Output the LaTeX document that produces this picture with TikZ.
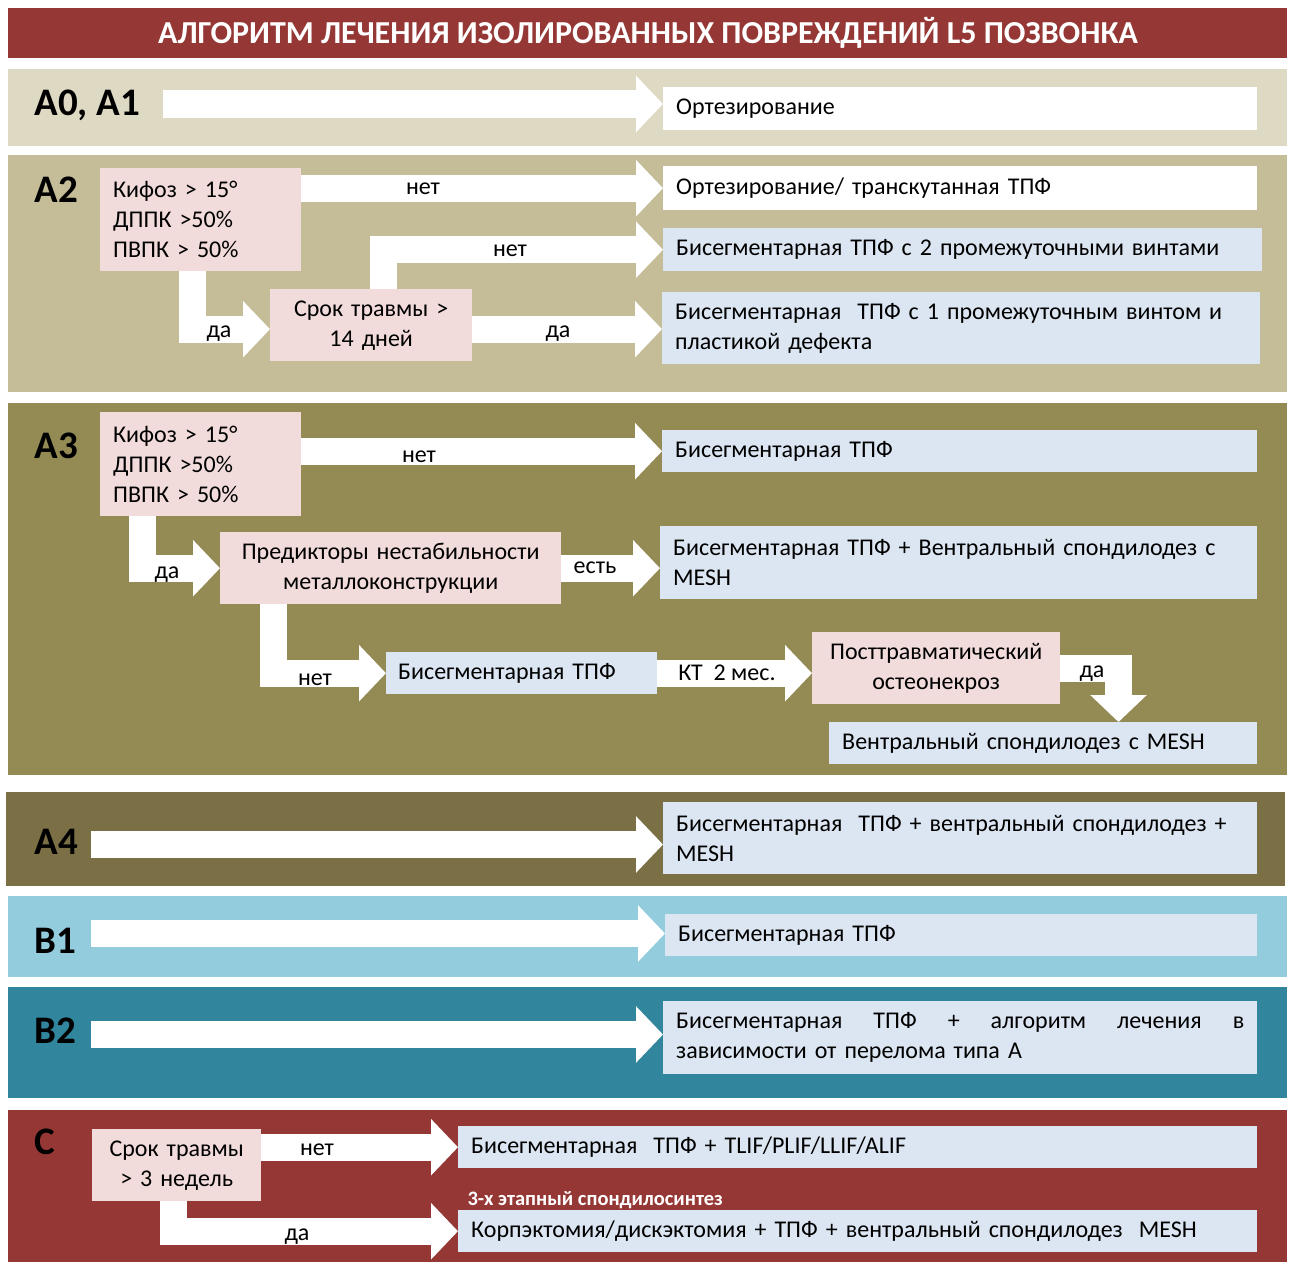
\documentclass[tikz,border=0pt]{standalone}
\usepackage{fontspec}
\setmainfont{Carlito}
\usetikzlibrary{arrows.meta}

\definecolor{titlered}{HTML}{953735}
\definecolor{bandA0}{HTML}{DDD9C3}
\definecolor{bandA2}{HTML}{C4BD97}
\definecolor{bandA3}{HTML}{948A54}
\definecolor{bandA4}{HTML}{7A6F45}
\definecolor{bandB1}{HTML}{93CDDD}
\definecolor{bandB2}{HTML}{31859C}
\definecolor{pinkbox}{HTML}{F2DCDB}
\definecolor{bluebox}{HTML}{DCE6F2}

\newcommand{\txt}{\fontsize{24}{30}\selectfont}
\newcommand{\grptxt}{\fontsize{39}{39}\selectfont\bfseries}

\begin{document}
\begin{tikzpicture}[x=1pt,y=-1pt,
  res/.style={anchor=north west,fill=bluebox,inner xsep=13pt,inner ysep=0pt,align=left,font=\txt},
  resw/.style={res,fill=white},
  cond/.style={anchor=north west,fill=pinkbox,inner sep=0pt,align=center,font=\txt},
  flow/.style={draw=white,line width=27pt,-{Triangle[length=27pt,width=55pt]}},
  lbl/.style={anchor=base,font=\txt},
  grp/.style={anchor=base west,font=\grptxt}]
\useasboundingbox (0,0) rectangle (1291,1263);

% bands
\fill[titlered] (8,8) rectangle (1287,58);
\fill[bandA0] (8,69) rectangle (1287,146);
\fill[bandA2] (8,155) rectangle (1287,392);
\fill[bandA3] (8,403) rectangle (1287,775);
\fill[bandA4] (6,792) rectangle (1285,886);
\fill[bandB1] (8,896) rectangle (1287,977);
\fill[bandB2] (8,987) rectangle (1287,1098);
\fill[titlered] (8,1110) rectangle (1287,1262);

\node[anchor=base,text=white,font=\fontsize{32}{32}\selectfont\bfseries] (title) at (648,44)
  {АЛГОРИТМ ЛЕЧЕНИЯ ИЗОЛИРОВАННЫХ ПОВРЕЖДЕНИЙ L5 ПОЗВОНКА};

% group labels
\node[grp] (gA0) at (31,115) {A0, A1};
\node[grp] (gA2) at (31,202) {A2};
\node[grp] (gA3) at (31,458) {A3};
\node[grp] (gA4) at (31,854) {A4};
\node[grp] (gB1) at (31,953) {B1};
\node[grp] (gB2) at (31,1043) {B2};
\node[grp] (gC) at (31,1154) {C};

% A0, A1
\node[resw,text width=568pt,minimum height=43pt] (o0) at (663,87) {Ортезирование};
\coordinate (s0) at (163,104);
\draw[flow] (s0) -- (s0 -| o0.west);

% A2
\node[cond,align=left,inner xsep=13pt,text width=175pt,minimum height=103pt] (kif2) at (100,168)
  {Кифоз > 15°\\ДППК >50\%\\ПВПК > 50\%};
\node[cond,text width=202pt,minimum height=72pt] (srok2) at (270,289) {Срок травмы >\\14 дней};
\node[resw,text width=568pt,minimum height=44pt] (b21) at (663,166) {Ортезирование/ транскутанная ТПФ};
\node[res,text width=573pt,minimum height=43pt] (b22) at (663,228) {Бисегментарная ТПФ с 2 промежуточными винтами};
\node[res,text width=572pt,minimum height=72pt] (b23) at (662,292)
  {Бисегментарная\ \ ТПФ с 1 промежуточным винтом и\\пластикой дефекта};
\draw[flow] (kif2.east |- b21.west) -- (b21.west);
\draw[flow] ([xshift=12.5pt]srok2.north) |- (b22.west);
\draw[flow] ([xshift=-8pt]kif2.south) |- ([yshift=-4pt]srok2.west);
\draw[flow] ([yshift=-4pt]srok2.east) -- ([yshift=-4pt]srok2.east -| b23.west);
\node[lbl] (n21) at (423,194) {нет};
\node[lbl] (n22) at (510,256) {нет};
\node[lbl] (d21) at (219,337) {да};
\node[lbl] (d22) at (558,337) {да};

% A3
\node[cond,align=left,inner xsep=13pt,text width=175pt,minimum height=104pt] (kif3) at (100,412)
  {Кифоз > 15°\\ДППК >50\%\\ПВПК > 50\%};
\node[cond,text width=341pt,minimum height=72pt] (pred) at (220,532)
  {Предикторы нестабильности\\металлоконструкции};
\node[cond,text width=248pt,minimum height=72pt] (post) at (812,632)
  {Посттравматический\\остеонекроз};
\node[res,text width=569pt,minimum height=42pt] (b31) at (662,430) {Бисегментарная ТПФ};
\node[res,text width=571pt,minimum height=73pt] (b32) at (660,526)
  {Бисегментарная ТПФ + Вентральный спондилодез с\\MESH};
\node[res,inner xsep=12pt,text width=247pt,minimum height=42pt] (b33) at (386,652) {Бисегментарная ТПФ};
\node[res,text width=402pt,minimum height=42pt] (b34) at (829,722) {Вентральный спондилодез с MESH};
\draw[flow] (kif3.east |- b31.west) -- (b31.west);
\draw[flow] ([xshift=-58pt]kif3.south) |- (pred.west);
\draw[flow] (pred.east) -- (pred.east -| b32.west);
\draw[flow] ([xshift=-117pt]pred.south) |- (b33.west);
\draw[flow] (b33.east) -- (b33.east -| post.west);
\coordinate (bend) at (1118.5,668.5);
\draw[flow] (post.east |- bend) -- (bend) -- (bend |- b34.north);
\node[lbl] (n31) at (419,462) {нет};
\node[lbl] (d31) at (167,578) {да};
\node[lbl] (e31) at (595,573) {есть};
\node[lbl] (n32) at (315,685) {нет};
\node[lbl] (kt) at (727,680) {КТ\ \ 2 мес.};
\node[lbl] (d32) at (1092,677) {да};

% A4, B1, B2
\node[res,text width=568pt,minimum height=72pt] (b4) at (663,802)
  {Бисегментарная\ \ ТПФ + вентральный спондилодез +\\MESH};
\node[res,text width=566pt,minimum height=42pt] (b5) at (665,914) {Бисегментарная ТПФ};
\node[res,text width=568pt,minimum height=73pt] (b6) at (663,1001)
  {Бисегментарная\hfill ТПФ\hfill +\hfill алгоритм\hfill лечения\hfill в\\зависимости от перелома типа А};
\coordinate (s4) at (91,844.5);
\coordinate (s5) at (91,933.5);
\coordinate (s6) at (91,1034.5);
\draw[flow] (s4) -- (s4 -| b4.west);
\draw[flow] (s5) -- (s5 -| b5.west);
\draw[flow] (s6) -- (s6 -| b6.west);

% C
\node[cond,text width=169pt,minimum height=72pt] (srokC) at (92,1129) {Срок травмы\\> 3 недель};
\node[res,text width=773pt,minimum height=42pt] (c1) at (458,1126) {Бисегментарная\ \ ТПФ + TLIF/PLIF/LLIF/ALIF};
\node[res,text width=773pt,minimum height=42pt] (c2) at (458,1210)
  {Корпэктомия/дискэктомия + ТПФ + вентральный спондилодез\ \ MESH};
\draw[flow] (srokC.east |- c1.west) -- (c1.west);
\draw[flow] ([xshift=-3.5pt]srokC.south) |- (c2.west);
\node[lbl] (nC) at (317,1155) {нет};
\node[lbl] (dC) at (297,1240) {да};
\node[anchor=base west,text=white,font=\fontsize{20.5}{20.5}\selectfont\bfseries] (stage) at (464,1205)
  {3-х этапный спондилосинтез};
\end{tikzpicture}
\end{document}
